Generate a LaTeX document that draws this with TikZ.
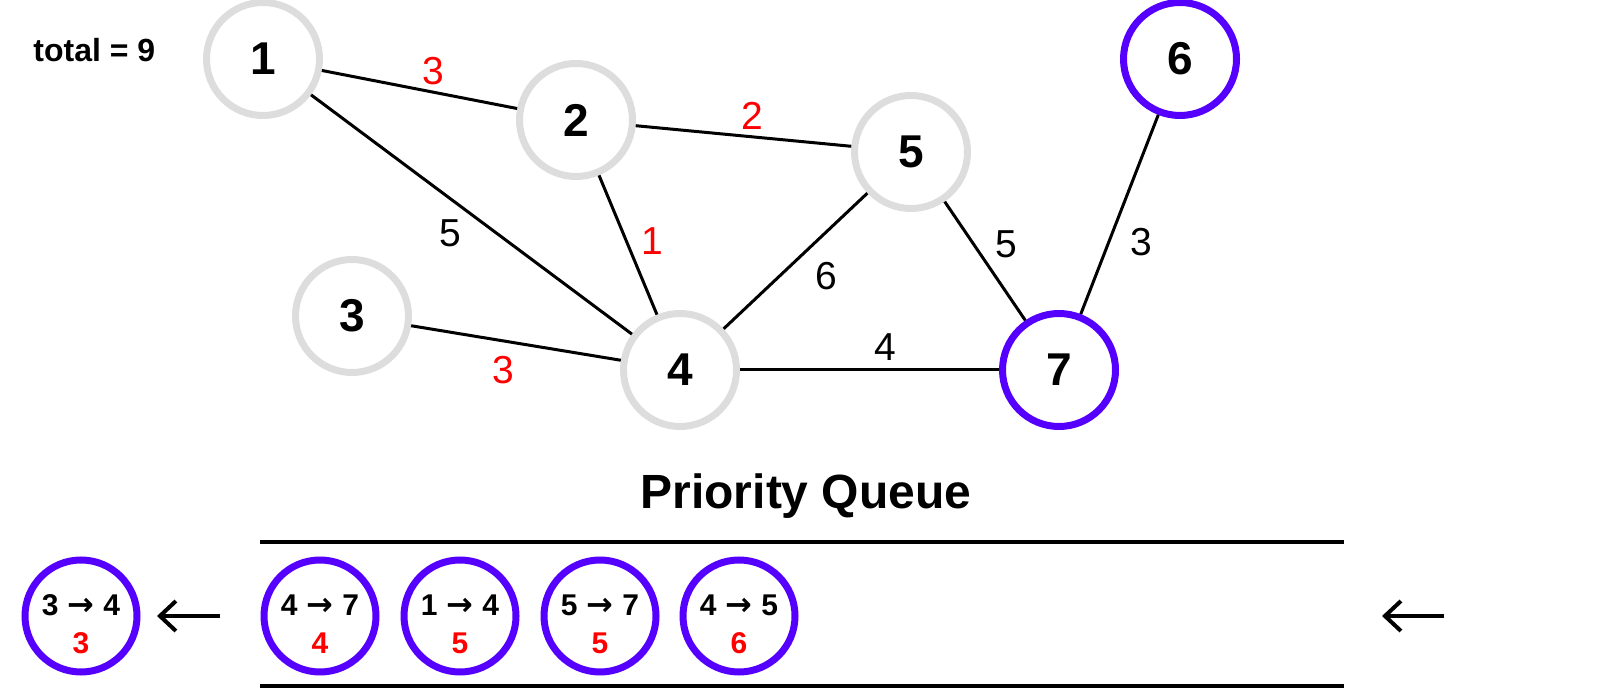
\documentclass[tikz,border=0pt]{standalone}
\usepackage{fontspec}
\setmainfont{Liberation Sans}
\newfontfamily\arrowfont{DejaVu Sans}
\usetikzlibrary{arrows.meta,positioning}

\definecolor{vgray}{HTML}{DDDDDD}
\definecolor{vpurple}{HTML}{5500FF}
\definecolor{wred}{HTML}{FF0000}

% edge text inside a queue circle: from, to, weight
\newcommand{\qentry}[3]{\rule{0pt}{18.5pt}#1\hspace{0.3em}{\arrowfont\bfseries\fontsize{16}{16}\selectfont →}\hspace{0.3em}#2\\\textcolor{wred}{#3}}

\begin{document}
\begin{tikzpicture}[x=0.5pt, y=-0.5pt,
  vtx/.style={circle, draw=vgray, line width=3.5pt, minimum size=56.5pt, inner sep=0pt, font=\fontsize{23}{23}\selectfont\bfseries},
  done/.style={vtx, draw=vpurple},
  qitem/.style={circle, draw=vpurple, line width=3.5pt, minimum size=56pt, inner sep=0pt, align=center, font=\fontsize{15}{18.75}\selectfont\bfseries},
  edge/.style={line width=1.5pt},
  lbl/.style={font=\fontsize{19.5}{19.5}\selectfont, inner sep=3pt},
  hot/.style={lbl, text=wred},
  rail/.style={line width=2pt},
  push/.style={line width=2pt, -{Straight Barb[length=8pt, width=15pt]}}
]
  \useasboundingbox (0,0) rectangle (1604,688);

  \node[anchor=west, inner sep=0pt, font=\fontsize{16}{16}\selectfont\bfseries] (total) at (33,50) {total = 9};

  % graph
  \node[vtx] (v1) at (263,59) {1};
  \node[vtx] (v2) at (576,120) {2};
  \node[vtx] (v3) at (352,316) {3};
  \node[vtx] (v4) at (680,370) {4};
  \node[vtx] (v5) at (911,152) {5};
  \node[done] (v6) at (1180,59) {6};
  \node[done] (v7) at (1059,370) {7};

  \draw[edge] (v1) -- node[hot, pos=.57, above] {3} (v2);
  \draw[edge] (v1) -- node[lbl, pos=.49, below left] {5} (v4);
  \draw[edge] (v2) -- node[hot, pos=.54, above] {2} (v5);
  \draw[edge] (v2) -- node[hot, pos=.47, right=4pt] {1} (v4);
  \draw[edge] (v3) -- node[hot, pos=.44, below=4pt] {3} (v4);
  \draw[edge] (v4) -- node[lbl, pos=.57, below right=2pt] {6} (v5);
  \draw[edge] (v4) -- node[lbl, pos=.56, above=1pt] {4} (v7);
  \draw[edge] (v5) -- node[lbl, pos=.54, above right] {5} (v7);
  \draw[edge] (v6) -- node[lbl, pos=.51, below right=3pt] {3} (v7);

  % priority queue
  \node[anchor=base, font=\fontsize{24}{24}\selectfont\bfseries] (pq) at (806,509) {Priority Queue};
  \draw[rail] (260,542) -- (1344,542);
  \draw[rail] (260,686) -- (1344,686);

  \node[qitem] (q34) at (81,616) {\qentry{3}{4}{3}};
  \node[qitem] (q47) at (320,616) {\qentry{4}{7}{4}};
  \node[qitem] (q14) at (460,616) {\qentry{1}{4}{5}};
  \node[qitem] (q57) at (600,616) {\qentry{5}{7}{5}};
  \node[qitem] (q45) at (739,616) {\qentry{4}{5}{6}};

  \coordinate (pop) at (220,616);
  \coordinate (popped) at (157,616);
  \coordinate (feed) at (1444,616);
  \coordinate (fed) at (1382,616);
  \draw[push] (pop) -- (popped);
  \draw[push] (feed) -- (fed);
\end{tikzpicture}
\end{document}
